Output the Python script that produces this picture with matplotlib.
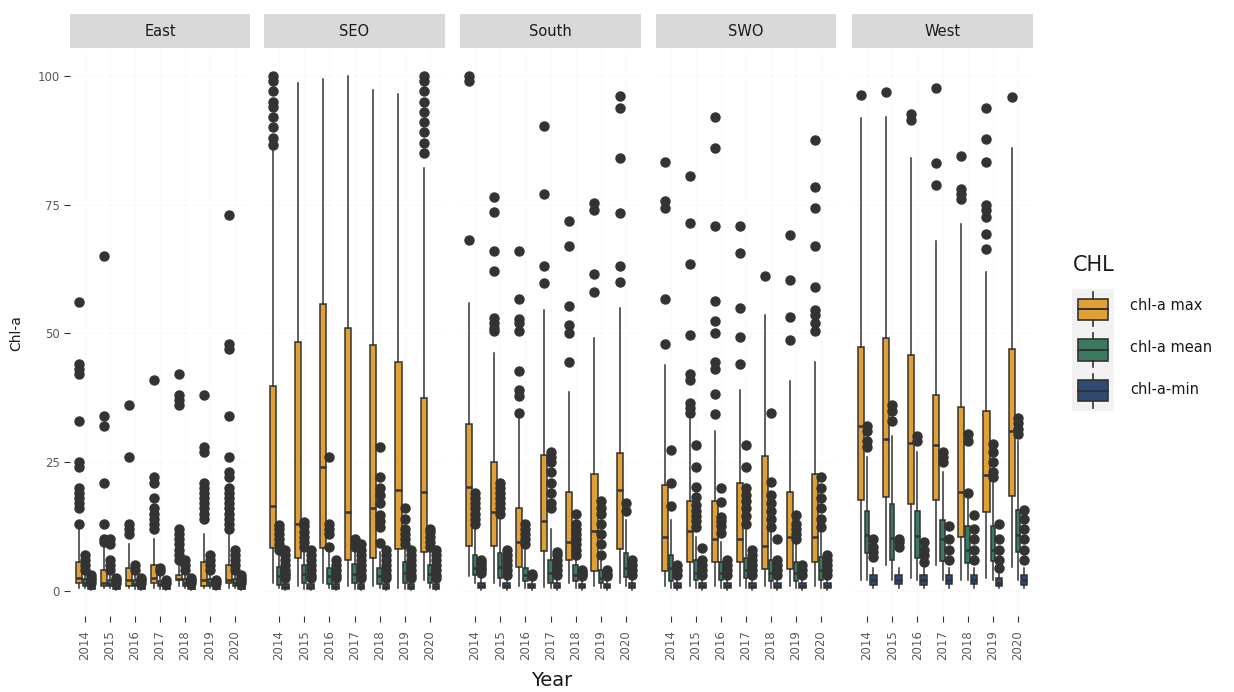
import matplotlib
matplotlib.use('Agg')
import matplotlib.pyplot as plt
from matplotlib.patches import Rectangle

YEARS = ['2014', '2015', '2016', '2017', '2018', '2019', '2020']
REGIONS = ['East', 'SEO', 'South', 'SWO', 'West']
SERIES = ['chl-a max', 'chl-a mean', 'chl-a-min']
COLORS = ['#E0A035', '#3A7A5E', '#2D4B73']

# each row: [whisker low, q1, median, q3, whisker high], one row per year
EAST_MAX = [[0.5, 1.5, 2.5, 5.5, 12], [0.5, 1.0, 1.5, 4.0, 9], [0.5, 1.0, 2.0, 4.5, 9],
            [0.5, 1.5, 2.5, 5.0, 10], [1.0, 2.0, 2.3, 3.0, 5], [0.5, 1.0, 2.0, 5.5, 11],
            [0.5, 1.5, 2.0, 5.0, 11]]
EAST_MAX_OUT = [[13, 16, 17, 18, 19, 20, 24, 25, 33, 42, 43, 44, 56],
                [9.5, 10, 13, 21, 32, 34, 65],
                [11, 12, 13, 26, 36],
                [12, 13, 14, 15, 16, 18, 21, 22, 41],
                [6, 7, 8, 9, 10, 11, 12, 36, 37, 38, 42],
                [14, 15, 16, 17, 18, 19, 20, 21, 27, 28, 38],
                [12, 13, 14, 15, 16, 17, 18, 19, 20, 22, 23, 26, 34, 47, 48, 73]]
EAST_MEAN = [[0.5, 1.0, 1.5, 2.2, 3.5], [0.5, 1.0, 1.4, 2.0, 3.5], [0.4, 0.9, 1.3, 2.0, 3.2],
             [0.4, 0.9, 1.3, 1.9, 3.2], [0.5, 1.0, 1.5, 2.2, 3.5], [0.5, 1.0, 1.5, 2.3, 3.6],
             [0.5, 1.0, 1.5, 2.3, 3.6]]
EAST_MEAN_OUT = [[4, 5, 6, 7], [4, 5, 6, 9, 10], [4, 5], [3.8, 4.5], [4, 5, 6],
                 [4, 5, 6, 7], [4, 5, 6, 7, 8]]
EAST_MIN = [[0.2, 0.4, 0.6, 0.9, 1.3], [0.2, 0.4, 0.6, 0.9, 1.3], [0.2, 0.4, 0.6, 0.9, 1.3],
            [0.2, 0.4, 0.6, 0.9, 1.3], [0.2, 0.4, 0.6, 0.9, 1.3], [0.2, 0.4, 0.6, 0.9, 1.3],
            [0.2, 0.4, 0.6, 0.9, 1.3]]
EAST_MIN_OUT = [[1.5, 2, 2.5, 3], [1.5, 2, 2.5], [1.5, 2, 2.5], [1.5, 2],
                [1.5, 2, 2.5], [1.5, 2], [1.5, 2, 2.5, 3]]

SEO_MAX = [[1.5, 8.4, 16.5, 39.8, 85.8], [1.0, 6.4, 13.0, 48.3, 98.6], [1.5, 8.4, 24.0, 55.7, 99.3],
           [1.0, 6.0, 15.3, 51.0, 100], [1.0, 6.4, 16.0, 47.8, 97.3], [0.5, 8.2, 19.6, 44.5, 96.5],
           [2.0, 7.6, 19.2, 37.4, 82]]
SEO_MAX_OUT = [[86.5, 88, 90, 92, 94, 95, 97, 99, 100], [], [], [], [], [],
               [85, 87, 89, 91, 93, 95, 97, 99, 100]]
SEO_MEAN = [[0.5, 1.2, 2.8, 4.7, 7.0], [0.3, 1.5, 3.3, 5.0, 8.0], [0.5, 1.3, 2.8, 4.5, 7.5],
            [0.3, 1.5, 3.2, 5.2, 8.0], [0.5, 1.4, 2.8, 4.5, 7.5], [0.3, 1.5, 3.5, 5.5, 8.5],
            [0.5, 1.5, 3.2, 5.0, 8.0]]
SEO_MEAN_OUT = [[8, 9, 10, 11, 12, 12.8], [8.5, 9.5, 10.5, 11.5, 12.5, 13.4],
                [8.5, 11, 12, 13, 26], [8.5, 9, 10],
                [9.3, 12.4, 13.5, 14.7, 17, 18.6, 20, 22, 28],
                [9, 10, 11, 12, 14, 16], [8.5, 9.5, 10.5, 11.5, 12]]
SEO_MIN = [[0.1, 0.4, 0.8, 1.3, 2.2], [0.1, 0.4, 0.8, 1.3, 2.2], [0.1, 0.4, 0.8, 1.3, 2.2],
           [0.1, 0.4, 0.8, 1.3, 2.2], [0.1, 0.4, 0.8, 1.3, 2.2], [0.1, 0.4, 0.8, 1.3, 2.2],
           [0.1, 0.4, 0.8, 1.3, 2.2]]
SEO_MIN_OUT = [[2.5, 3, 3.5, 4, 5, 6, 7, 8], [2.5, 3, 4, 5, 6, 7, 8], [2.5, 3, 4, 5, 6],
               [2.5, 3, 4, 5, 6, 7, 8, 9], [2.5, 3, 4, 5, 6, 7, 8], [2.5, 3, 4, 5, 6, 7, 8],
               [2.5, 3, 4, 5, 6, 7, 8]]

SOUTH_MAX = [[2.9, 8.7, 20.2, 32.4, 55.9], [1.5, 8.7, 15.3, 25.0, 46.2], [1.0, 4.7, 9.5, 16.0, 33.8],
             [0.8, 7.8, 13.6, 26.4, 54.6], [1.5, 6.0, 9.5, 19.2, 38.6], [1.0, 3.9, 11.6, 22.7, 49.0],
             [1.5, 8.2, 19.6, 26.8, 55.0]]
SOUTH_MAX_OUT = [[68.2, 99, 100],
                 [50.5, 51, 52, 53, 62, 66, 73.6, 76.4],
                 [34.5, 37.8, 39, 42.7, 50.5, 52, 52.8, 56.7, 66],
                 [59.8, 63, 77, 90.3],
                 [44.5, 50, 51.6, 55.3, 67, 71.8],
                 [58, 61.5, 74, 75.3],
                 [60, 63, 73.3, 84, 93.8, 96]]
SOUTH_MEAN = [[1.5, 3.1, 4.5, 7.0, 12.4], [1.0, 2.5, 4.7, 7.4, 13.8], [0.5, 1.8, 3.0, 4.5, 8.0],
              [0.5, 1.5, 3.5, 6.0, 12.0], [0.5, 1.8, 3.0, 5.0, 6.5], [0.5, 1.5, 2.5, 4.0, 6.5],
              [1.0, 2.7, 4.5, 7.4, 13.8]]
SOUTH_MEAN_OUT = [[13, 14, 15, 16, 17, 18, 19], [15, 16, 17, 18, 19, 20, 21],
                  [9, 10, 11, 12, 13], [16, 17, 19, 21, 23, 25, 26, 27],
                  [7, 8, 9, 10, 11, 12, 13, 15], [7, 9, 11, 13, 15, 16, 17.5], [15.5, 17]]
SOUTH_MIN = [[0.2, 0.6, 1.0, 1.6, 2.8], [0.2, 0.6, 1.0, 1.6, 2.8], [0.2, 0.5, 0.9, 1.4, 2.4],
             [0.2, 0.6, 1.0, 1.6, 2.8], [0.2, 0.5, 0.9, 1.4, 2.4], [0.2, 0.5, 0.9, 1.4, 2.4],
             [0.2, 0.6, 1.0, 1.6, 2.8]]
SOUTH_MIN_OUT = [[3.5, 4, 4.5, 5, 5.5, 6], [3, 4, 5, 6, 7, 8], [2.8, 3.2],
                 [3, 4, 5, 6, 7, 7.5], [2.8, 3.2, 3.6, 4], [2.8, 3.2, 4], [3, 4, 5, 6]]

SWO_MAX = [[1.0, 3.9, 10.5, 20.6, 43.9], [1.0, 5.6, 11.6, 17.5, 33.4], [1.0, 5.6, 10.0, 17.5, 31.0],
           [1.0, 5.6, 10.0, 21.0, 39.0], [1.0, 4.3, 8.7, 26.2, 53.6], [1.0, 4.3, 10.5, 19.2, 40.8],
           [1.0, 5.6, 10.5, 22.7, 44.5]]
SWO_MAX_OUT = [[48, 56.7, 74.4, 75.7, 83.3],
               [34.5, 35.5, 36.5, 41, 42, 49.7, 63.5, 71.5, 80.6],
               [34.4, 38.2, 43, 44.5, 50, 52.4, 56.3, 70.9, 86, 92],
               [44, 49.3, 55, 65.6, 70.9],
               [61.2],
               [48.7, 53.2, 60.4, 69],
               [50.5, 52, 53.5, 54.6, 59, 67, 74.4, 78.4, 87.6]]
SWO_MEAN = [[0.5, 1.8, 4.5, 7.0, 13.8], [0.5, 2.1, 3.5, 6.0, 10.5], [0.5, 2.1, 3.5, 5.6, 9.5],
            [0.5, 2.5, 4.0, 6.4, 12.2], [0.5, 1.8, 3.5, 6.0, 11.3], [0.5, 1.8, 3.5, 5.6, 9.5],
            [0.5, 2.1, 4.0, 6.6, 11.5]]
SWO_MEAN_OUT = [[16.5, 21, 27.4],
                [12.4, 13.5, 14.5, 15.5, 16.7, 18.3, 20.2, 24, 28.3],
                [11.3, 12.5, 13.5, 14.4, 17.3, 20],
                [13, 14.5, 16, 17.5, 18.5, 20, 24, 28.3],
                [12.4, 14, 15.5, 17, 18.6, 21.2, 34.5],
                [10, 11, 12, 13, 14.7],
                [12.4, 14, 16, 18, 20, 22]]
SWO_MIN = [[0.2, 0.6, 1.0, 1.6, 2.8], [0.2, 0.6, 1.0, 1.6, 2.8], [0.2, 0.6, 1.0, 1.6, 2.8],
           [0.2, 0.6, 1.0, 1.6, 2.8], [0.2, 0.6, 1.0, 1.6, 2.8], [0.2, 0.6, 1.0, 1.6, 2.8],
           [0.2, 0.6, 1.0, 1.6, 2.8]]
SWO_MIN_OUT = [[3, 4, 5], [3, 4, 5, 6, 8.3], [3, 4, 5, 6], [3, 4, 5, 6, 7, 8],
               [3, 4, 5, 6, 10], [3, 4, 5], [3, 4, 5, 6, 7]]

WEST_MAX = [[2.1, 17.7, 32.0, 47.3, 91.7], [5.0, 18.2, 29.5, 49.1, 92.0], [2.5, 16.8, 28.7, 45.8, 84.0],
            [5.0, 17.6, 28.4, 38.1, 68.0], [2.0, 10.5, 19.2, 35.6, 71.3], [2.5, 15.3, 22.5, 35.0, 61.8],
            [4.7, 18.4, 31.0, 47.0, 86.0]]
WEST_MAX_OUT = [[96.2], [96.9], [91.5, 92.5], [78.8, 83, 97.6], [76, 77, 78, 84.5],
                [66.4, 69.3, 72.6, 74, 75, 83.3, 87.8, 93.8], [95.8]]
WEST_MEAN = [[2.0, 7.3, 10.9, 15.4, 26.0], [2.0, 6.0, 10.3, 16.9, 30.0], [2.0, 6.3, 10.6, 15.4, 27.0],
             [2.0, 5.7, 10.0, 13.8, 23.0], [2.0, 5.4, 8.0, 12.5, 18.0], [2.0, 5.7, 8.0, 12.5, 21.0],
             [2.0, 7.6, 10.9, 15.7, 29.0]]
WEST_MEAN_OUT = [[28, 29, 31, 32], [33, 35, 36], [29, 30], [25, 26, 27], [19, 29, 30.5],
                 [22, 23, 25, 27, 28.5], [30.5, 31.5, 32.5, 33.5]]
WEST_MIN = [[0.5, 1.2, 2.0, 3.1, 4.5], [0.5, 1.3, 2.0, 3.0, 4.5], [0.5, 1.2, 2.0, 3.1, 4.5],
            [0.5, 1.3, 2.0, 3.0, 4.5], [0.5, 1.3, 2.0, 3.0, 4.5], [0.5, 1.0, 1.6, 2.4, 4.0],
            [0.5, 1.2, 2.0, 3.1, 4.5]]
WEST_MIN_OUT = [[6.5, 7.5, 8.5, 10], [8.5, 9.5, 10], [5.5, 7, 8, 9.5], [6, 8, 10, 12.5],
                [6, 8, 10, 12, 14.7], [4.5, 6, 8, 10, 13], [6, 8, 10, 12, 14, 15.7]]

panel_data = {
    'East': [(EAST_MAX, EAST_MAX_OUT), (EAST_MEAN, EAST_MEAN_OUT), (EAST_MIN, EAST_MIN_OUT)],
    'SEO': [(SEO_MAX, SEO_MAX_OUT), (SEO_MEAN, SEO_MEAN_OUT), (SEO_MIN, SEO_MIN_OUT)],
    'South': [(SOUTH_MAX, SOUTH_MAX_OUT), (SOUTH_MEAN, SOUTH_MEAN_OUT), (SOUTH_MIN, SOUTH_MIN_OUT)],
    'SWO': [(SWO_MAX, SWO_MAX_OUT), (SWO_MEAN, SWO_MEAN_OUT), (SWO_MIN, SWO_MIN_OUT)],
    'West': [(WEST_MAX, WEST_MAX_OUT), (WEST_MEAN, WEST_MEAN_OUT), (WEST_MIN, WEST_MIN_OUT)],
}

W, H = 1234, 692
DARK = '#333333'
offsets = [-0.25, 0.0, 0.25]
widths = [0.24, 0.18, 0.26]

fig = plt.figure(figsize=(W / 100, H / 100), dpi=100)


def fig_rect(x0, y0, x1, y1):
    # pixel box (top-left origin) -> figure fraction rect
    return [x0 / W, 1 - y1 / H, (x1 - x0) / W, (y1 - y0) / H]


panel_x = [(70, 250), (264, 445), (460, 641), (656, 836), (852, 1033)]
panel_top, panel_bottom = 50, 616

for p, region in enumerate(REGIONS):
    x0, x1 = panel_x[p]
    ax = fig.add_axes(fig_rect(x0, panel_top, x1, panel_bottom))
    ax.set_facecolor('white')
    for s, (boxes, outs) in enumerate(panel_data[region]):
        stats = []
        for b, o in zip(boxes, outs):
            stats.append(dict(whislo=b[0], q1=b[1], med=b[2], q3=b[3], whishi=b[4], fliers=o))
        pos = [i + 1 + offsets[s] for i in range(len(YEARS))]
        ax.bxp(stats, positions=pos, widths=widths[s], patch_artist=True, showcaps=False,
               manage_ticks=False,
               boxprops=dict(facecolor=COLORS[s], edgecolor=DARK, linewidth=1.1),
               medianprops=dict(color=DARK, linewidth=1.8),
               whiskerprops=dict(color=DARK, linewidth=1.1),
               flierprops=dict(marker='o', markerfacecolor=DARK, markeredgecolor=DARK,
                               markersize=6.5))
    ax.set_xlim(0.4, 7.6)
    ax.set_ylim(-4.9, 105)
    ax.set_xticks(range(1, 8))
    ax.set_xticklabels(YEARS, rotation=90, fontsize=8.5, color='#5A5A5A')
    ax.set_yticks([0, 25, 50, 75, 100])
    ax.grid(True, color='#FAFAFA', linewidth=0.8)
    ax.set_axisbelow(True)
    for sp in ax.spines.values():
        sp.set_visible(False)
    ax.tick_params(axis='x', length=4, color=DARK, pad=6)
    if p == 0:
        ax.tick_params(axis='y', length=4, color=DARK, labelsize=8.5, labelcolor='#5A5A5A')
        ax.set_ylabel('Chl-a', fontsize=10, color='#1A1A1A', labelpad=10)
    else:
        ax.tick_params(axis='y', length=0, labelleft=False)

    # facet strip
    st = fig.add_axes(fig_rect(x0, 14, x1, 48))
    st.set_facecolor('#D9D9D9')
    st.set_xticks([])
    st.set_yticks([])
    for sp in st.spines.values():
        sp.set_visible(False)
    st.text(0.5, 0.5, region, ha='center', va='center', fontsize=10.5, color='#1A1A1A')

fig.text((70 + 1033) / 2 / W, 1 - 680 / H, 'Year', ha='center', va='center', fontsize=14,
         color='#1A1A1A')

# legend
fig.text(1073 / W, 1 - 265 / H, 'CHL', ha='left', va='center', fontsize=15, color='#1A1A1A')
lg = fig.add_axes(fig_rect(1072, 289, 1114, 411))
lg.set_xlim(0, 1)
lg.set_ylim(3, 0)
lg.set_facecolor('#F2F2F2')
lg.set_xticks([])
lg.set_yticks([])
for sp in lg.spines.values():
    sp.set_visible(False)
for k, (name, col) in enumerate(zip(SERIES, COLORS)):
    cy = k + 0.5
    lg.plot([0.5, 0.5], [cy - 0.42, cy - 0.26], color=DARK, lw=1.2)
    lg.plot([0.5, 0.5], [cy + 0.26, cy + 0.42], color=DARK, lw=1.2)
    lg.add_patch(Rectangle((0.15, cy - 0.26), 0.7, 0.52, facecolor=col, edgecolor=DARK, lw=1.2))
    lg.plot([0.15, 0.85], [cy, cy], color=DARK, lw=1.4)
    fig.text(1130 / W, 1 - (306 + 42 * k) / H, name, ha='left', va='center', fontsize=10.5,
             color='#1A1A1A')

fig.savefig('out.png', dpi=100)
